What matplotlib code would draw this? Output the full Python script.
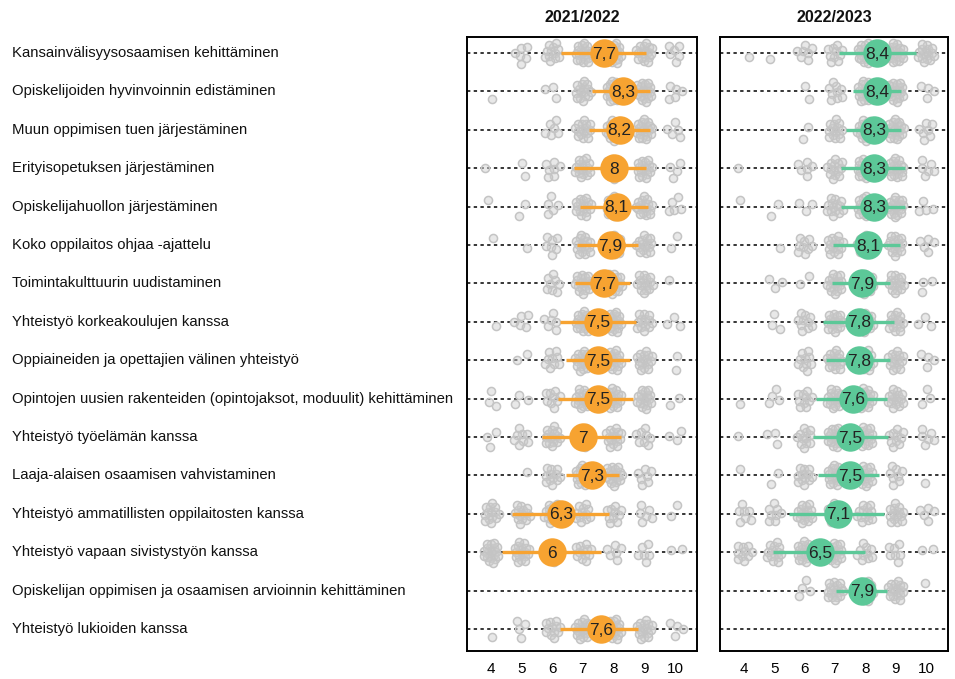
import numpy as np
import matplotlib
matplotlib.use("Agg")
import matplotlib.pyplot as plt

plt.rcParams['font.family'] = ['Liberation Sans', 'DejaVu Sans']

labels = [
    "Kansainvälisyysosaamisen kehittäminen",
    "Opiskelijoiden hyvinvoinnin edistäminen",
    "Muun oppimisen tuen järjestäminen",
    "Erityisopetuksen järjestäminen",
    "Opiskelijahuollon järjestäminen",
    "Koko oppilaitos ohjaa -ajattelu",
    "Toimintakulttuurin uudistaminen",
    "Yhteistyö korkeakoulujen kanssa",
    "Oppiaineiden ja opettajien välinen yhteistyö",
    "Opintojen uusien rakenteiden (opintojaksot, moduulit) kehittäminen",
    "Yhteistyö työelämän kanssa",
    "Laaja-alaisen osaamisen vahvistaminen",
    "Yhteistyö ammatillisten oppilaitosten kanssa",
    "Yhteistyö vapaan sivistystyön kanssa",
    "Opiskelijan oppimisen ja osaamisen arvioinnin kehittäminen",
    "Yhteistyö lukioiden kanssa",
]

periods = ["2021/2022", "2022/2023"]
scores = [4, 5, 6, 7, 8, 9, 10]

mean_2122 = [7.7, 8.3, 8.2, 8.0, 8.1, 7.9, 7.7, 7.5, 7.5, 7.5, 7.0, 7.3, 6.3, 6.0, None, 7.6]
low_2122 = [6.3, 7.3, 7.2, 6.7, 6.9, 6.8, 6.75, 6.25, 6.45, 6.2, 5.65, 6.45, 4.7, 4.35, None, 6.25]
high_2122 = [9.07, 9.18, 9.18, 9.07, 9.12, 8.8, 8.55, 8.72, 8.53, 8.62, 8.23, 8.17, 7.84, 7.6, None, 8.8]

mean_2223 = [8.4, 8.4, 8.3, 8.3, 8.3, 8.1, 7.9, 7.8, 7.8, 7.6, 7.5, 7.5, 7.1, 6.5, 7.9, None]
low_2223 = [7.14, 7.6, 7.38, 7.19, 7.19, 6.94, 6.89, 6.61, 6.72, 6.39, 6.28, 6.45, 5.5, 4.97, 7.02, None]
high_2223 = [9.67, 9.16, 9.16, 9.32, 9.29, 9.15, 8.8, 8.94, 8.8, 8.72, 8.76, 8.44, 8.63, 7.98, 8.72, None]

# response counts per score 4..10 for each row
counts_2122 = [
    [0, 6, 12, 20, 22, 18, 6],
    [1, 0, 3, 16, 24, 22, 5],
    [0, 0, 6, 16, 24, 22, 5],
    [1, 2, 7, 18, 22, 18, 4],
    [1, 2, 5, 18, 22, 18, 5],
    [1, 1, 7, 18, 22, 16, 2],
    [0, 0, 8, 20, 22, 16, 1],
    [1, 5, 6, 20, 22, 14, 3],
    [0, 2, 9, 20, 20, 16, 2],
    [3, 3, 9, 20, 20, 18, 2],
    [3, 8, 16, 20, 16, 8, 3],
    [0, 1, 12, 20, 20, 7, 0],
    [14, 14, 18, 12, 10, 6, 2],
    [20, 18, 18, 12, 6, 6, 2],
    [0, 0, 0, 0, 0, 0, 0],
    [1, 4, 12, 20, 20, 16, 4],
]
counts_2223 = [
    [1, 1, 7, 10, 24, 22, 16],
    [0, 0, 2, 9, 24, 22, 4],
    [0, 0, 2, 14, 24, 22, 7],
    [1, 0, 6, 14, 24, 20, 6],
    [1, 2, 3, 14, 22, 20, 4],
    [0, 1, 9, 16, 22, 18, 5],
    [0, 3, 2, 18, 22, 16, 3],
    [0, 3, 10, 18, 20, 16, 3],
    [0, 0, 10, 18, 20, 16, 4],
    [1, 4, 10, 20, 20, 16, 3],
    [1, 3, 12, 20, 20, 10, 6],
    [1, 2, 12, 20, 18, 8, 1],
    [7, 8, 18, 18, 14, 14, 5],
    [10, 14, 20, 18, 10, 7, 2],
    [0, 0, 4, 18, 22, 18, 1],
    [0, 0, 0, 0, 0, 0, 0],
]

colors = ["#F7A331", "#5CC898"]

W, H = 955, 679
fig = plt.figure(figsize=(W / 100, H / 100), dpi=100)

axes_px = [(467, 697), (720, 948)]
top_px, bot_px = 37, 651
n = len(labels)

def fmt(v):
    s = f"{v:.1f}"
    if s.endswith(".0"):
        s = s[:-2]
    return s.replace(".", ",")

golden = np.pi * (3 - np.sqrt(5))
RX, RY = 8.5, 11.0  # jitter half-extent in px

panel_data = [
    (mean_2122, low_2122, high_2122, counts_2122),
    (mean_2223, low_2223, high_2223, counts_2223),
]

for p, ((x0, x1), (means, lows, highs, counts)) in enumerate(zip(axes_px, panel_data)):
    ax = fig.add_axes([x0 / W, 1 - bot_px / H, (x1 - x0) / W, (bot_px - top_px) / H])
    xlim = (3.22, 10.72)
    ylim = (n - 1 + 0.573, -0.417)
    ax.set_xlim(*xlim)
    ax.set_ylim(*ylim)
    pxx = (x1 - x0) / (xlim[1] - xlim[0])
    pxy = (bot_px - top_px) / (ylim[0] - ylim[1])
    for i in range(n):
        ax.plot(xlim, [i, i], color="black", lw=1.1, ls=(0, (2.2, 2.2)), zorder=1)
        xs, ys = [], []
        for s, c in zip(scores, counts[i]):
            for k in range(c):
                f = np.sqrt((k + 0.5) / c)
                a = k * golden + s * 1.7 + i * 0.9
                xs.append(s + RX * f * np.cos(a) / pxx)
                ys.append(i + RY * f * np.sin(a) / pxy)
        if xs:
            ax.scatter(xs, ys, s=34, facecolors=(0.80, 0.80, 0.80, 0.45),
                       edgecolors=(0.77, 0.77, 0.77, 1.0), linewidths=1.1, zorder=2)
        if means[i] is not None:
            ax.plot([lows[i], highs[i]], [i, i], color=colors[p], lw=2.4,
                    solid_capstyle="butt", zorder=3)
            ax.scatter([means[i]], [i], s=420, color=colors[p], zorder=4, linewidths=0)
            ax.text(means[i], i + 0.03, fmt(means[i]), ha="center", va="center",
                    fontsize=12.5, color="#222222", zorder=5,
                    family=["Liberation Sans Narrow", "Liberation Sans", "DejaVu Sans"])
    ax.set_xticks(scores)
    ax.set_xticklabels([str(s) for s in scores], fontsize=11)
    ax.tick_params(axis="x", length=0, pad=8)
    ax.set_yticks([])
    for sp in ax.spines.values():
        sp.set_linewidth(1.4)
        sp.set_color("black")
    fig.text((x0 + x1) / 2 / W, 1 - 17 / H, periods[p], ha="center", va="center",
             fontsize=11.5, fontweight="bold", color="#111111")

for i, lab in enumerate(labels):
    y_px = 53 + i * 38.4
    fig.text(12 / W, 1 - y_px / H, lab, ha="left", va="center", fontsize=10.7, color="#111111")

fig.savefig("out.png", dpi=100)
